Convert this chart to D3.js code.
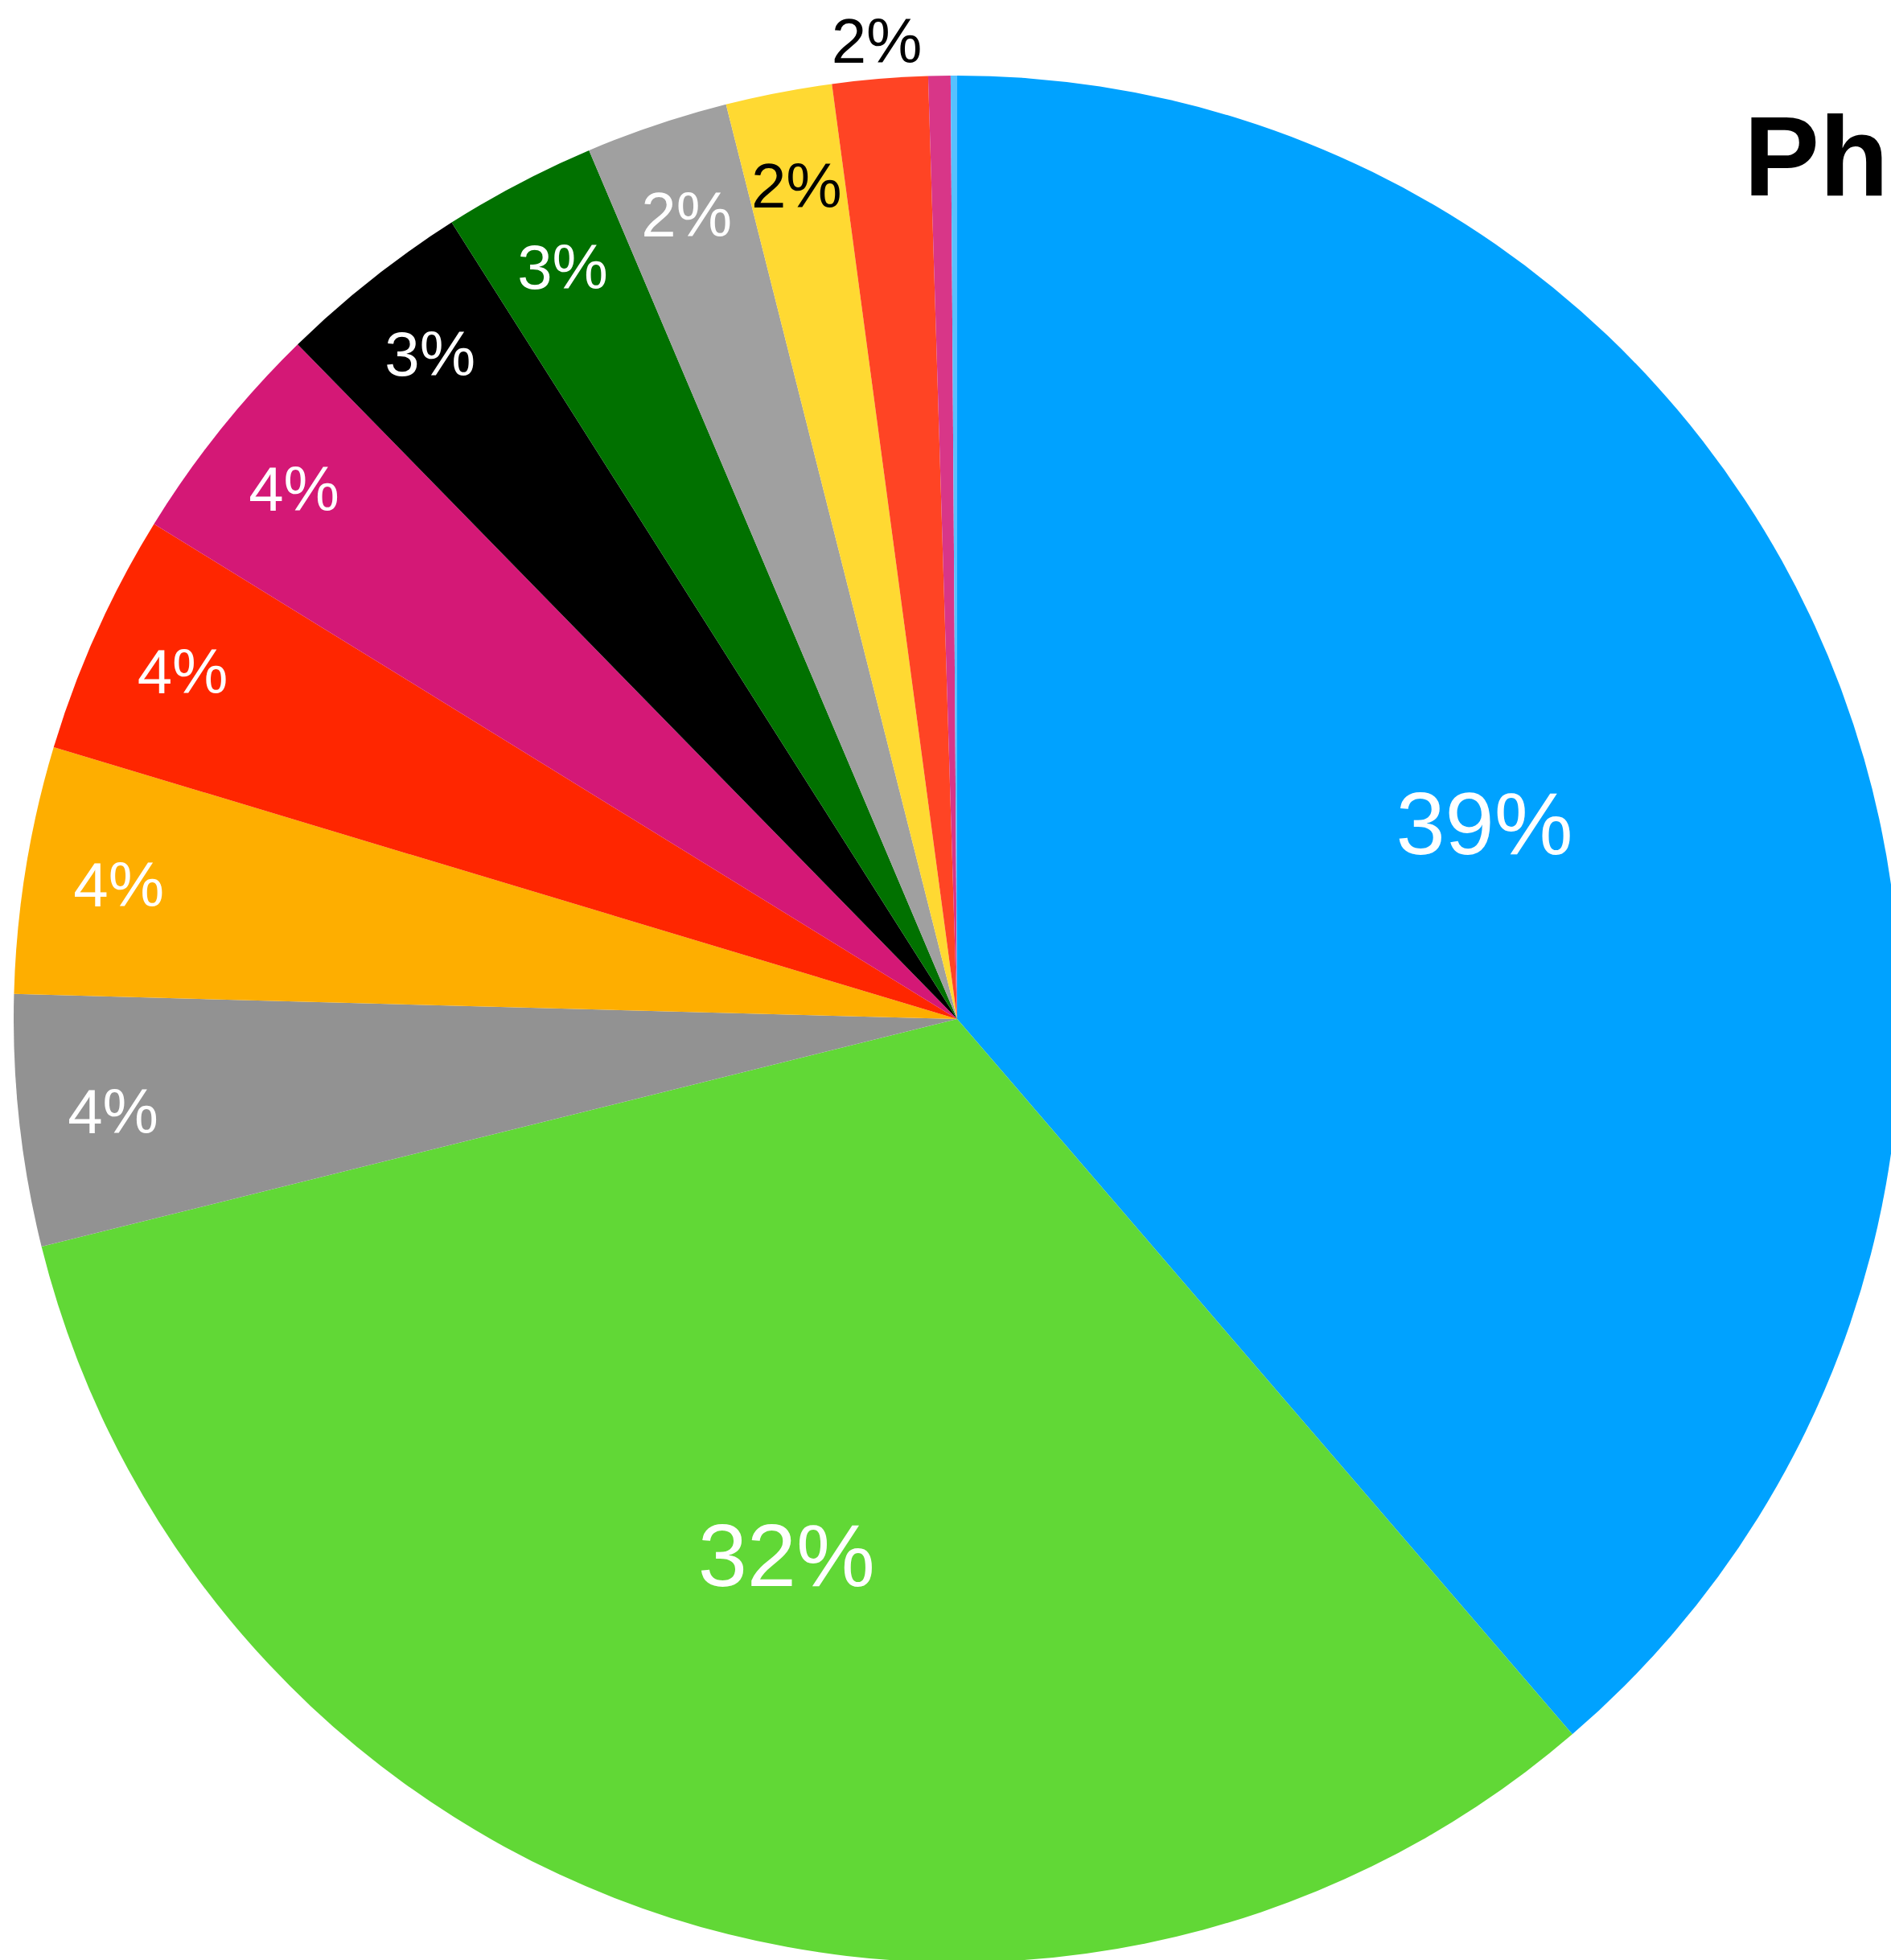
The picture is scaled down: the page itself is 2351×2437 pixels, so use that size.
<!DOCTYPE html>
<html>
<head>
<meta charset="utf-8">
<script src="https://cdn.jsdelivr.net/npm/d3@7"></script>
<style>
  body { margin: 0; background: #fff; }
  text { font-family: "Liberation Sans", Arial, sans-serif; }
</style>
</head>
<body>
<script>
// slice data, clockwise from 12 o'clock
let categories = ["A", "B", "C", "D", "E", "F", "G", "H", "I", "J", "K", "L", "M"];
let values = [38.70, 32.43, 4.30, 4.23, 4.14, 3.89, 3.32, 2.62, 2.44, 1.82, 1.63, 0.38, 0.11];
let colors = ["#00A2FF", "#61D836", "#929292", "#FEAE00", "#FF2600", "#D41876", "#000000",
              "#017100", "#A0A0A0", "#FFD932", "#FF4424", "#D83688", "#56C1FF"];
let title = "Ph";

let svgWidth = 2351;
let svgHeight = 2437;
let cx = 1190, cy = 1267, radius = 1173;

let svg = d3.select("body")
    .append("svg")
    .attr("width", svgWidth)
    .attr("height", svgHeight)

let data = categories.map((c, i) => ({ name: c, value: values[i], color: colors[i] }));
let total = d3.sum(values);

let pie = d3.pie()
    .value(d => d.value)
    .sort(null);

let arcs = pie(data);

let arc = d3.arc()
    .innerRadius(0)
    .outerRadius(radius);

let chartGroup = svg.append("g")
    .attr("transform", `translate(${cx},${cy})`)

chartGroup.selectAll("path")
    .data(arcs)
    .enter()
    .append("path")
    .attr("d", arc)
    .attr("fill", d => d.data.color);

// label placement: big slices near middle, small ones near the rim, tiny ones outside
function labelRadius(d) {
    let pct = d.data.value / total * 100;
    if (pct >= 10) return radius * 0.596;
    if (pct >= 1.7) return radius * 0.9;
    return radius * 1.04;
}

let labelled = arcs.filter(d => Math.round(d.data.value / total * 100) > 0);

chartGroup.selectAll(".label")
    .data(labelled)
    .enter()
    .append("text")
    .attr("class", "label")
    .attr("transform", d => {
        let a = (d.startAngle + d.endAngle) / 2;
        let r = labelRadius(d);
        return `translate(${Math.sin(a) * r},${-Math.cos(a) * r})`;
    })
    .attr("text-anchor", "middle")
    .attr("dy", "0.35em")
    .attr("font-size", d => d.data.value / total * 100 >= 10 ? 110 : 78)
    .attr("fill", d => {
        let pct = d.data.value / total * 100;
        if (pct < 1.7) return "#000";
        return d3.lab(d.data.color).l > 80 ? "#000" : "#fff";
    })
    .text(d => Math.round(d.data.value / total * 100) + "%");

svg.append("text")
    .attr("x", 2168)
    .attr("y", 243)
    .attr("font-size", 141)
    .attr("font-weight", "bold")
    .attr("fill", "#000")
    .text(title);
</script>
</body>
</html>
